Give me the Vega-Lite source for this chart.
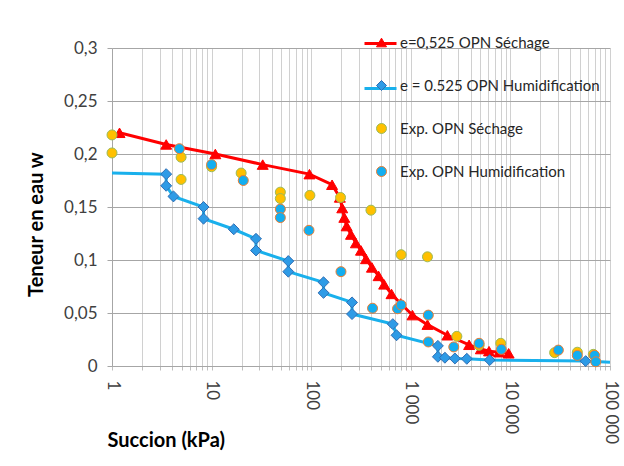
{
  "$schema": "https://vega.github.io/schema/vega-lite/v6.json",
  "autosize": {"type": "none"},
  "width": 498,
  "height": 318,
  "padding": {"left": 112, "top": 48, "right": 14, "bottom": 100},
  "background": "white",
  "config": {"font": "Lato", "view": {"stroke": null}},
  "data": {"values": [
    {"series": "e=0,525 OPN Séchage", "s": 1.19, "w": 0.220},
    {"series": "e=0,525 OPN Séchage", "s": 3.5, "w": 0.209},
    {"series": "e=0,525 OPN Séchage", "s": 10.9, "w": 0.200},
    {"series": "e=0,525 OPN Séchage", "s": 32.6, "w": 0.190},
    {"series": "e=0,525 OPN Séchage", "s": 96, "w": 0.181},
    {"series": "e=0,525 OPN Séchage", "s": 162, "w": 0.171},
    {"series": "e=0,525 OPN Séchage", "s": 194, "w": 0.159},
    {"series": "e=0,525 OPN Séchage", "s": 205, "w": 0.149},
    {"series": "e=0,525 OPN Séchage", "s": 215, "w": 0.140},
    {"series": "e=0,525 OPN Séchage", "s": 227, "w": 0.132},
    {"series": "e=0,525 OPN Séchage", "s": 251, "w": 0.124},
    {"series": "e=0,525 OPN Séchage", "s": 281, "w": 0.116},
    {"series": "e=0,525 OPN Séchage", "s": 316, "w": 0.109},
    {"series": "e=0,525 OPN Séchage", "s": 355, "w": 0.101},
    {"series": "e=0,525 OPN Séchage", "s": 407, "w": 0.093},
    {"series": "e=0,525 OPN Séchage", "s": 475, "w": 0.085},
    {"series": "e=0,525 OPN Séchage", "s": 540, "w": 0.077},
    {"series": "e=0,525 OPN Séchage", "s": 640, "w": 0.068},
    {"series": "e=0,525 OPN Séchage", "s": 790, "w": 0.059},
    {"series": "e=0,525 OPN Séchage", "s": 1040, "w": 0.048},
    {"series": "e=0,525 OPN Séchage", "s": 1470, "w": 0.039},
    {"series": "e=0,525 OPN Séchage", "s": 2330, "w": 0.029},
    {"series": "e=0,525 OPN Séchage", "s": 3850, "w": 0.020},
    {"series": "e=0,525 OPN Séchage", "s": 5050, "w": 0.016},
    {"series": "e=0,525 OPN Séchage", "s": 6100, "w": 0.014},
    {"series": "e=0,525 OPN Séchage", "s": 7700, "w": 0.013},
    {"series": "e=0,525 OPN Séchage", "s": 9600, "w": 0.012},
    {"series": "e = 0.525 OPN Humidification", "s": 1, "w": 0.182},
    {"series": "e = 0.525 OPN Humidification", "s": 3.5, "w": 0.181},
    {"series": "e = 0.525 OPN Humidification", "s": 3.5, "w": 0.170},
    {"series": "e = 0.525 OPN Humidification", "s": 4.14, "w": 0.160},
    {"series": "e = 0.525 OPN Humidification", "s": 8.3, "w": 0.150},
    {"series": "e = 0.525 OPN Humidification", "s": 8.3, "w": 0.139},
    {"series": "e = 0.525 OPN Humidification", "s": 16.7, "w": 0.129},
    {"series": "e = 0.525 OPN Humidification", "s": 27.9, "w": 0.120},
    {"series": "e = 0.525 OPN Humidification", "s": 27.9, "w": 0.109},
    {"series": "e = 0.525 OPN Humidification", "s": 58.9, "w": 0.099},
    {"series": "e = 0.525 OPN Humidification", "s": 58.9, "w": 0.089},
    {"series": "e = 0.525 OPN Humidification", "s": 133, "w": 0.079},
    {"series": "e = 0.525 OPN Humidification", "s": 133, "w": 0.069},
    {"series": "e = 0.525 OPN Humidification", "s": 257, "w": 0.060},
    {"series": "e = 0.525 OPN Humidification", "s": 257, "w": 0.049},
    {"series": "e = 0.525 OPN Humidification", "s": 660, "w": 0.0395},
    {"series": "e = 0.525 OPN Humidification", "s": 719, "w": 0.029},
    {"series": "e = 0.525 OPN Humidification", "s": 1870, "w": 0.019},
    {"series": "e = 0.525 OPN Humidification", "s": 1870, "w": 0.0087},
    {"series": "e = 0.525 OPN Humidification", "s": 2200, "w": 0.0078},
    {"series": "e = 0.525 OPN Humidification", "s": 2770, "w": 0.0071},
    {"series": "e = 0.525 OPN Humidification", "s": 3650, "w": 0.0068},
    {"series": "e = 0.525 OPN Humidification", "s": 6200, "w": 0.0056},
    {"series": "e = 0.525 OPN Humidification", "s": 57000, "w": 0.0046},
    {"series": "e = 0.525 OPN Humidification", "s": 100000, "w": 0.0036},
    {"series": "Exp. OPN Séchage", "s": 1, "w": 0.218},
    {"series": "Exp. OPN Séchage", "s": 1, "w": 0.201},
    {"series": "Exp. OPN Séchage", "s": 4.94, "w": 0.197},
    {"series": "Exp. OPN Séchage", "s": 4.94, "w": 0.176},
    {"series": "Exp. OPN Séchage", "s": 10, "w": 0.188},
    {"series": "Exp. OPN Séchage", "s": 19.8, "w": 0.182},
    {"series": "Exp. OPN Séchage", "s": 49, "w": 0.164},
    {"series": "Exp. OPN Séchage", "s": 49, "w": 0.158},
    {"series": "Exp. OPN Séchage", "s": 97, "w": 0.161},
    {"series": "Exp. OPN Séchage", "s": 197, "w": 0.159},
    {"series": "Exp. OPN Séchage", "s": 398, "w": 0.147},
    {"series": "Exp. OPN Séchage", "s": 800, "w": 0.105},
    {"series": "Exp. OPN Séchage", "s": 1470, "w": 0.103},
    {"series": "Exp. OPN Séchage", "s": 2900, "w": 0.028},
    {"series": "Exp. OPN Séchage", "s": 4850, "w": 0.0195},
    {"series": "Exp. OPN Séchage", "s": 8000, "w": 0.0214},
    {"series": "Exp. OPN Séchage", "s": 27800, "w": 0.0126},
    {"series": "Exp. OPN Séchage", "s": 47000, "w": 0.013},
    {"series": "Exp. OPN Séchage", "s": 68000, "w": 0.011},
    {"series": "Exp. OPN Humidification", "s": 4.75, "w": 0.205},
    {"series": "Exp. OPN Humidification", "s": 10, "w": 0.190},
    {"series": "Exp. OPN Humidification", "s": 20.8, "w": 0.175},
    {"series": "Exp. OPN Humidification", "s": 49, "w": 0.148},
    {"series": "Exp. OPN Humidification", "s": 49, "w": 0.140},
    {"series": "Exp. OPN Humidification", "s": 95, "w": 0.128},
    {"series": "Exp. OPN Humidification", "s": 199, "w": 0.089},
    {"series": "Exp. OPN Humidification", "s": 413, "w": 0.0545},
    {"series": "Exp. OPN Humidification", "s": 736, "w": 0.054},
    {"series": "Exp. OPN Humidification", "s": 800, "w": 0.0576},
    {"series": "Exp. OPN Humidification", "s": 1500, "w": 0.048},
    {"series": "Exp. OPN Humidification", "s": 1500, "w": 0.0227},
    {"series": "Exp. OPN Humidification", "s": 2700, "w": 0.018},
    {"series": "Exp. OPN Humidification", "s": 4850, "w": 0.0214},
    {"series": "Exp. OPN Humidification", "s": 8100, "w": 0.0157},
    {"series": "Exp. OPN Humidification", "s": 30300, "w": 0.015},
    {"series": "Exp. OPN Humidification", "s": 47000, "w": 0.010},
    {"series": "Exp. OPN Humidification", "s": 70000, "w": 0.010},
    {"series": "Exp. OPN Humidification", "s": 72000, "w": 0.004}
  ]},
  "encoding": {
    "x": {
      "field": "s", "type": "quantitative",
      "scale": {"type": "log", "domain": [1, 100000], "nice": false},
      "axis": {
        "values": [1,2,3,4,5,6,7,8,9,10,20,30,40,50,60,70,80,90,100,200,300,400,500,600,700,800,900,1000,2000,3000,4000,5000,6000,7000,8000,9000,10000,20000,30000,40000,50000,60000,70000,80000,90000,100000],
        "labelExpr": "datum.value == 1 ? '1' : datum.value == 10 ? '10' : datum.value == 100 ? '100' : datum.value == 1000 ? '1 000' : datum.value == 10000 ? '10 000' : datum.value == 100000 ? '100 000' : ''",
        "labelAngle": 90, "labelAlign": "left", "labelBaseline": "middle",
        "labelPadding": 10, "labelFontSize": 17, "labelColor": "#404040",
        "labelOverlap": false, "labelFlush": false, "labelBound": false,
        "tickSize": 4, "tickColor": "#bfbfbf", "domainColor": "#a6a6a6",
        "grid": true, "gridColor": "#d0d0d0", "gridWidth": 1,
        "title": "Succion (kPa)", "titleFontSize": 20, "titleFontWeight": "bold", "titleColor": "#000000",
        "titleAnchor": "start", "titleAlign": "left", "titleBaseline": "middle", "titleX": -5, "titleY": 74
      }
    },
    "y": {
      "field": "w", "type": "quantitative",
      "scale": {"domain": [0, 0.3], "nice": false},
      "axis": {
        "values": [0, 0.05, 0.1, 0.15, 0.2, 0.25, 0.3],
        "labelExpr": "replace(format(datum.value, '.2~f'), '.', ',')",
        "labelFontSize": 17, "labelColor": "#404040", "labelPadding": 10,
        "tickSize": 5, "tickColor": "#a6a6a6", "domainColor": "#a6a6a6",
        "grid": true, "gridColor": "#a6a6a6", "gridWidth": 1,
        "title": "Teneur en eau w", "titleFontSize": 20, "titleFontWeight": "bold", "titleColor": "#000000",
        "titleAngle": -90, "titleAlign": "center", "titleBaseline": "middle", "titleX": -76, "titleY": 176
      }
    }
  },
  "layer": [
    {
      "transform": [{"filter": "indexof(datum.series, 'Exp.') !== 0"}],
      "mark": {"type": "line", "strokeWidth": 3},
      "encoding": {
        "order": {"field": "w", "sort": "descending"},
        "color": {
          "field": "series", "type": "nominal",
          "scale": {
            "domain": ["e=0,525 OPN Séchage", "e = 0.525 OPN Humidification"],
            "range": ["#ff0000", "#19b0ec"]
          },
          "legend": {
            "orient": "none", "legendX": 251, "legendY": -22, "title": null, "padding": 0,
            "symbolType": "stroke", "symbolSize": 1024, "symbolStrokeWidth": 3,
            "labelFontSize": 32, "labelOpacity": 0, "labelColor": "rgba(0,0,0,0)", "rowPadding": 11
          }
        }
      }
    },
    {
      "transform": [{"filter": "indexof(datum.series, 'Exp.') !== 0 && datum.s > 1 && datum.s < 100000"}],
      "mark": {"type": "point", "filled": true, "opacity": 1, "strokeWidth": 1, "size": 120},
      "encoding": {
        "shape": {"field": "series", "type": "nominal",
          "scale": {"domain": ["e=0,525 OPN Séchage", "e = 0.525 OPN Humidification", "Exp. OPN Séchage", "Exp. OPN Humidification"],
                    "range": ["triangle-up", "diamond", "circle", "circle"]},
          "legend": {
            "orient": "none", "legendX": 262, "legendY": -13, "title": null, "padding": 0,
            "symbolSize": 100, "symbolStrokeWidth": 1, "labelFontSize": 15, "labelOffset": 11, "rowPadding": 27, "labelLimit": 300,
            "labelColor": "#262626"
          }},
        "fill": {"field": "series", "type": "nominal",
          "scale": {"domain": ["e=0,525 OPN Séchage", "e = 0.525 OPN Humidification", "Exp. OPN Séchage", "Exp. OPN Humidification"],
                    "range": ["#ff0000", "#2e9be6", "#ffc000", "#12aef0"]},
          "legend": {
            "orient": "none", "legendX": 262, "legendY": -13, "title": null, "padding": 0,
            "symbolSize": 100, "symbolStrokeWidth": 1, "labelFontSize": 15, "labelOffset": 11, "rowPadding": 27, "labelLimit": 300,
            "labelColor": "#262626"
          }},
        "stroke": {"field": "series", "type": "nominal",
          "scale": {"domain": ["e=0,525 OPN Séchage", "e = 0.525 OPN Humidification", "Exp. OPN Séchage", "Exp. OPN Humidification"],
                    "range": ["#ff0000", "#2f6db3", "#9bbb59", "#ed7d31"]},
          "legend": {
            "orient": "none", "legendX": 262, "legendY": -13, "title": null, "padding": 0,
            "symbolSize": 100, "symbolStrokeWidth": 1, "labelFontSize": 15, "labelOffset": 11, "rowPadding": 27, "labelLimit": 300,
            "labelColor": "#262626"
          }}
      }
    },
    {
      "transform": [{"filter": "indexof(datum.series, 'Exp.') === 0"}],
      "mark": {"type": "point", "filled": true, "opacity": 1, "strokeWidth": 1, "size": 100, "shape": "circle"},
      "encoding": {
        "fill": {"field": "series", "type": "nominal"},
        "stroke": {"field": "series", "type": "nominal"}
      }
    }
  ]
}
